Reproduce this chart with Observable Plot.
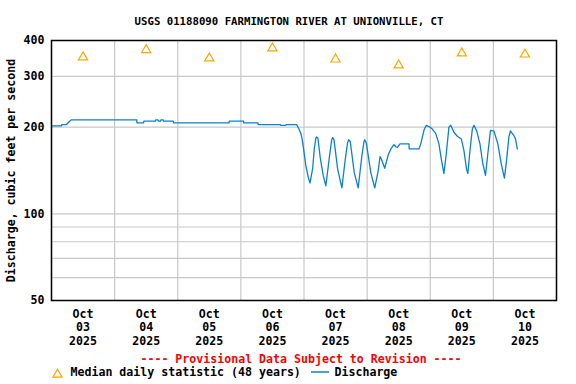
<!DOCTYPE html>
<html>
<head>
<meta charset="utf-8">
<script src="https://cdn.jsdelivr.net/npm/d3@7"></script>
<script src="https://cdn.jsdelivr.net/npm/@observablehq/plot@0.6"></script>
<style>
  html, body { margin: 0; padding: 0; background: #fff; }
</style>
</head>
<body>
<div id="chart"></div>
<script>
const title = "USGS 01188090 FARMINGTON RIVER AT UNIONVILLE, CT";
const yLabel = "Discharge, cubic feet per second";
const caption = "---- Provisional Data Subject to Revision ----";
const medianLabel = "Median daily statistic (48 years)";
const flowLabel = "Discharge";

const days = ["2025-10-03","2025-10-04","2025-10-05","2025-10-06","2025-10-07","2025-10-08","2025-10-09","2025-10-10"];
const medianCfs = [350, 371, 347, 376, 344, 328, 361, 358];

const yTicks = [50, 100, 200, 300, 400];
const yGrid = [50, 60, 70, 80, 90, 100, 200, 300, 400];

// hours since 2025-10-03 00:00
const flowHours = [0,3.8,3.9,5.6,6.5,7.5,32.4,32.5,35.0,35.1,39.5,39.6,40.5,40.6,41.5,41.6,42.5,42.6,46.3,46.4,67.5,67.6,73.0,73.1,78.5,78.6,87.0,87.1,89.1,89.2,93.2,93.6,94.2,94.9,95.5,96.7,97.6,98.3,99.3,99.9,100.5,100.8,101.3,102.2,103.3,104.3,105.6,106.5,106.9,107.4,108.8,110.4,111.7,112.6,113.0,113.6,115.1,116.6,118.0,118.8,119.1,119.7,121.4,122.9,124.2,124.9,125.4,126.7,128.0,129.0,129.6,130.2,130.9,131.5,132.5,135.9,136.0,139.7,140.4,141.6,142.5,143.5,144.8,146.1,147.3,148.3,149.2,150.1,151.1,151.8,153.0,154.3,155.8,156.8,157.8,158.3,159.1,160.0,160.6,161.6,162.9,164.0,165.0,165.9,166.9,168.2,169.7,171.0,172.2,173.0,173.9,174.5,175.8,176.4,177.1];
const flowCfs = [202,202,204,204,208,212,212,207,207,210,210,212,212,210,210,212,212,210,210,207,207,210,210,207,207,204,204,203,203,204,204,201,196,189,177,147,134,128,144,168,183,185,183,156,136,125,156,180,184,181,143,123,155,177,181,178,139,123,159,178,181,176,139,123,141,158,155,144,160,168,171,174,171,170,175,175,168,168,175,195,203,201,197,190,175,153,138,162,200,203,192,186,182,166,143,138,166,197,203,195,175,149,136,162,195,194,175,149,133,153,185,194,187,182,168];

const t0 = Date.UTC(2025, 9, 3);
const HOUR = 3600e3;
const flow = flowHours.map((h, i) => ({t: new Date(t0 + h * HOUR), q: flowCfs[i]}));
const dayDates = days.map(d => new Date(d + "T00:00:00Z"));
const noons = dayDates.map(d => new Date(+d + 12 * HOUR));
const medians = noons.map((d, i) => ({t: d, q: medianCfs[i]}));
const midnights = d3.utcDay.range(new Date(t0), new Date(t0 + 8 * 24 * HOUR + 1));
const fmt = d3.utcFormat("%b\n%d\n%Y");

const orange = "#FFA500";
const blue = "#0A80D2";

const legendLine = (index, scales, values, dims) => {
  const l = d3.create("svg:line")
    .attr("x1", dims.marginLeft + 260).attr("x2", dims.marginLeft + 278)
    .attr("y1", dims.height - 12).attr("y2", dims.height - 12)
    .attr("stroke", blue).attr("stroke-width", 1.5);
  return l.node();
};

const chart = Plot.plot({
  width: 576,
  height: 384,
  marginLeft: 51,
  marginRight: 20,
  marginTop: 40,
  marginBottom: 84,
  style: {fontFamily: "'DejaVu Sans Mono', monospace", fontSize: "11.6px", fontWeight: "bold", color: "#000", background: "#fff", overflow: "visible"},
  x: {type: "utc", domain: [new Date(t0), new Date(t0 + 8 * 24 * HOUR)]},
  y: {type: "log", domain: [50, 400]},
  marks: [
    Plot.gridX(midnights, {stroke: "#c8c8c8", strokeOpacity: 1, strokeWidth: 1.2}),
    Plot.gridY(yGrid, {stroke: "#c8c8c8", strokeOpacity: 1, strokeWidth: 1.2}),
    Plot.axisX(noons, {tickSize: 0, tickPadding: 8, tickFormat: d => fmt(d), lineHeight: 1.15, label: null}),
    Plot.axisY(yTicks, {tickSize: 0, tickPadding: 7, tickFormat: d => String(d), label: yLabel, labelAnchor: "center", labelArrow: "none", labelOffset: 45}),
    Plot.line(flow, {x: "t", y: "q", stroke: blue, strokeWidth: 1.3}),
    Plot.dot(medians, {x: "t", y: "q", symbol: "triangle", r: 3.4, stroke: orange, fill: "white", strokeWidth: 1.2}),
    Plot.frame({stroke: "#000", strokeWidth: 1.5}),
    Plot.text([title], {frameAnchor: "top", dx: -15, dy: -23, text: d => d, fontSize: 10.7}),
    Plot.text([caption], {frameAnchor: "bottom", dx: -3, dy: 62, text: d => d, fill: "#FF0000"}),
    Plot.dot([0], {frameAnchor: "bottom-left", dx: 6, dy: 74, symbol: "triangle", r: 3.4, stroke: orange, fill: "white", strokeWidth: 1.2}),
    Plot.text([medianLabel], {frameAnchor: "bottom-left", dx: 19, dy: 75, textAnchor: "start", text: d => d}),
    legendLine,
    Plot.text([flowLabel], {frameAnchor: "bottom-left", dx: 283, dy: 75, textAnchor: "start", text: d => d})
  ]
});
document.getElementById("chart").appendChild(chart);
</script>
</body>
</html>
